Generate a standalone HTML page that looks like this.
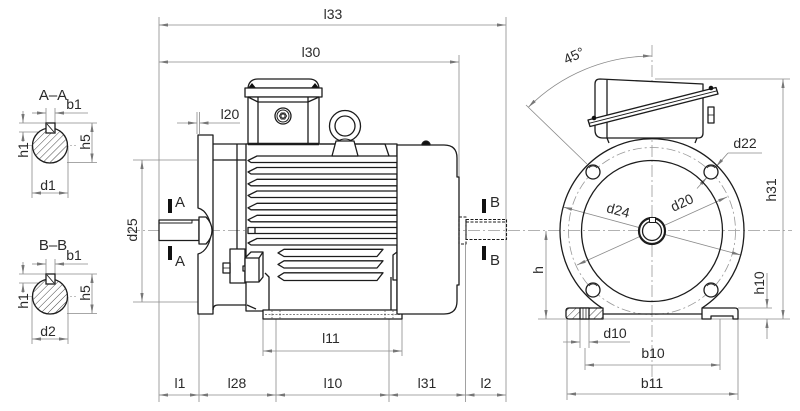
<!DOCTYPE html>
<html><head><meta charset="utf-8"><style>
html,body{margin:0;padding:0;background:#fff;}
svg{display:block}
text{font-family:"Liberation Sans",sans-serif;font-size:14px;fill:#2a2a2a}
.s{font-size:15px}
</style></head><body>
<svg width="800" height="411" viewBox="0 0 800 411" xmlns="http://www.w3.org/2000/svg">
<defs>
<marker id="a" viewBox="0 0 9 4" refX="9" refY="2" markerWidth="9" markerHeight="4" markerUnits="userSpaceOnUse" orient="auto-start-reverse"><path d="M0,0.4 L9,2 L0,3.6z" fill="#777"/></marker>
<pattern id="h" patternUnits="userSpaceOnUse" width="5" height="5" patternTransform="rotate(45)"><line x1="0" y1="0" x2="0" y2="5" stroke="#333" stroke-width="0.9"/></pattern>
<clipPath id="c1"><circle cx="50" cy="145.5" r="17.5"/></clipPath>
<clipPath id="c2"><circle cx="50" cy="296.5" r="17.5"/></clipPath>
</defs>

<!-- ============ DIMENSION / THIN LINES ============ -->
<g stroke="#8a8a8a" stroke-width="0.8" fill="none">
  <!-- center lines -->
  <line x1="128" y1="230.5" x2="792" y2="230.5" stroke-dasharray="12 3 2 3" stroke="#999"/>
  <line x1="652" y1="45" x2="652" y2="385" stroke-dasharray="12 3 2 3" stroke="#999"/>
  <line x1="26" y1="145.5" x2="76" y2="145.5" stroke-dasharray="6 2 2 2" stroke="#aaa"/>
  <line x1="26" y1="296.5" x2="76" y2="296.5" stroke-dasharray="6 2 2 2" stroke="#aaa"/>

  <!-- side view extension lines -->
  <line x1="159" y1="17" x2="159" y2="402"/>
  <line x1="506" y1="17" x2="506" y2="402"/>
  <line x1="459" y1="55" x2="459" y2="177"/>
  <line x1="199" y1="314" x2="199" y2="402"/>
  <line x1="276" y1="319" x2="276" y2="402"/>
  <line x1="389" y1="319" x2="389" y2="402"/>
  <line x1="465.5" y1="244" x2="465.5" y2="402"/>
  <line x1="263" y1="319" x2="263" y2="356"/>
  <line x1="402" y1="319" x2="402" y2="356"/>
  <line x1="197" y1="112" x2="197" y2="134"/>
  <line x1="199.5" y1="112" x2="199.5" y2="134"/>
  <line x1="133" y1="160" x2="197" y2="160"/>
  <line x1="133" y1="302" x2="198" y2="302"/>

  <!-- side view dims -->
  <line x1="159" y1="25" x2="506" y2="25" marker-start="url(#a)" marker-end="url(#a)"/>
  <line x1="159" y1="62" x2="459" y2="62" marker-start="url(#a)" marker-end="url(#a)"/>
  <line x1="177" y1="123" x2="197" y2="123" marker-end="url(#a)"/>
  <line x1="240" y1="123" x2="199.5" y2="123" marker-end="url(#a)"/>
  <line x1="142" y1="160" x2="142" y2="302" marker-start="url(#a)" marker-end="url(#a)"/>
  <line x1="263" y1="351" x2="402" y2="351" marker-start="url(#a)" marker-end="url(#a)"/>
  <line x1="159" y1="395" x2="199" y2="395" marker-start="url(#a)" marker-end="url(#a)"/>
  <line x1="199" y1="395" x2="276" y2="395" marker-start="url(#a)" marker-end="url(#a)"/>
  <line x1="276" y1="395" x2="389" y2="395" marker-start="url(#a)" marker-end="url(#a)"/>
  <line x1="389" y1="395" x2="465.5" y2="395" marker-start="url(#a)" marker-end="url(#a)"/>
  <line x1="465.5" y1="395" x2="506" y2="395" marker-start="url(#a)" marker-end="url(#a)"/>

  <!-- A-A section dims -->
  <line x1="46" y1="108" x2="46" y2="123"/>
  <line x1="55" y1="108" x2="55" y2="123"/>
  <line x1="32" y1="113" x2="46" y2="113" marker-end="url(#a)"/>
  <line x1="88" y1="113" x2="55" y2="113" marker-end="url(#a)"/>
  <line x1="19" y1="123" x2="97" y2="123"/>
  <line x1="19" y1="132" x2="47" y2="132"/>
  <line x1="23" y1="111" x2="23" y2="123" marker-end="url(#a)"/>
  <line x1="23" y1="142" x2="23" y2="132" marker-end="url(#a)"/>
  <line x1="67" y1="162.5" x2="97" y2="162.5"/>
  <line x1="92" y1="123" x2="92" y2="162.5" marker-start="url(#a)" marker-end="url(#a)"/>
  <line x1="32" y1="146" x2="32" y2="198"/>
  <line x1="68" y1="146" x2="68" y2="198"/>
  <line x1="32" y1="193" x2="68" y2="193" marker-start="url(#a)" marker-end="url(#a)"/>

  <!-- B-B section dims -->
  <line x1="46" y1="259" x2="46" y2="274"/>
  <line x1="55" y1="259" x2="55" y2="274"/>
  <line x1="32" y1="264" x2="46" y2="264" marker-end="url(#a)"/>
  <line x1="88" y1="264" x2="55" y2="264" marker-end="url(#a)"/>
  <line x1="19" y1="274" x2="97" y2="274"/>
  <line x1="19" y1="283" x2="47" y2="283"/>
  <line x1="23" y1="262" x2="23" y2="274" marker-end="url(#a)"/>
  <line x1="23" y1="293" x2="23" y2="283" marker-end="url(#a)"/>
  <line x1="67" y1="313.5" x2="97" y2="313.5"/>
  <line x1="92" y1="274" x2="92" y2="313.5" marker-start="url(#a)" marker-end="url(#a)"/>
  <line x1="32" y1="297" x2="32" y2="344"/>
  <line x1="68" y1="297" x2="68" y2="344"/>
  <line x1="32" y1="339" x2="68" y2="339" marker-start="url(#a)" marker-end="url(#a)"/>

  <!-- end view dims -->
  <circle cx="652" cy="231" r="83.5" stroke="#999" stroke-dasharray="9 3 2 3"/>
  <line x1="655" y1="79" x2="790" y2="79"/>
  <line x1="783" y1="79" x2="783" y2="319" marker-start="url(#a)" marker-end="url(#a)"/>
  <line x1="538" y1="319" x2="790" y2="319"/>
  <line x1="546" y1="231" x2="546" y2="319" marker-start="url(#a)" marker-end="url(#a)"/>
  <line x1="738" y1="308" x2="772" y2="308"/>
  <line x1="767" y1="273" x2="767" y2="308" marker-end="url(#a)"/>
  <line x1="767" y1="339" x2="767" y2="319" marker-end="url(#a)"/>
  <line x1="580" y1="319" x2="580" y2="348"/>
  <line x1="589" y1="319" x2="589" y2="348"/>
  <line x1="563" y1="342" x2="580" y2="342" marker-end="url(#a)"/>
  <line x1="630" y1="342" x2="589" y2="342" marker-end="url(#a)"/>
  <line x1="585" y1="348" x2="585" y2="370"/>
  <line x1="720" y1="319" x2="720" y2="370"/>
  <line x1="585" y1="365" x2="720" y2="365" marker-start="url(#a)" marker-end="url(#a)"/>
  <line x1="567" y1="319" x2="567" y2="400"/>
  <line x1="738" y1="319" x2="738" y2="400"/>
  <line x1="567" y1="394" x2="738" y2="394" marker-start="url(#a)" marker-end="url(#a)"/>
  <line x1="577" y1="265" x2="727" y2="197" marker-start="url(#a)" marker-end="url(#a)"/>
  <line x1="563.2" y1="207" x2="740.8" y2="255" marker-start="url(#a)" marker-end="url(#a)"/>
  <line x1="728" y1="153" x2="762" y2="153"/>
  <line x1="728" y1="153" x2="716" y2="166.7" marker-end="url(#a)"/>
  <line x1="697" y1="188.5" x2="707" y2="177.3" marker-end="url(#a)"/>
  <path d="M528.3,107.3 A175,175 0 0 1 652,56" marker-start="url(#a)" marker-end="url(#a)"/>
  <line x1="526" y1="105" x2="587" y2="164"/>
</g>

<!-- ============ SECTIONS ============ -->
<g stroke="#1c1c1c" stroke-width="1.3">
  <circle cx="50" cy="145.5" r="17.5" fill="#fff"/>
  <rect x="30" y="125" width="42" height="42" fill="url(#h)" stroke="none" clip-path="url(#c1)"/>
  <rect x="46" y="123" width="9" height="10" fill="#fff"/>
  <line x1="47" y1="124" x2="54" y2="132" stroke-width="0.9"/>
  <circle cx="50" cy="296.5" r="17.5" fill="#fff"/>
  <rect x="30" y="276" width="42" height="42" fill="url(#h)" stroke="none" clip-path="url(#c2)"/>
  <rect x="46" y="274" width="9" height="10" fill="#fff"/>
  <line x1="47" y1="275" x2="54" y2="283" stroke-width="0.9"/>
</g>

<!-- ============ SIDE VIEW OBJECT ============ -->
<g stroke="#1c1c1c" stroke-width="1.3" fill="#fff" stroke-linejoin="round">
  <!-- flange & neck -->
  <path d="M198,135 H213 V314 H198 V254 C206,252 211,242 211,231 C211,220 206,210 198,208 Z"/>
  <path d="M213,144 H247 V305 H218 Q213,305 213,310" fill="none"/>
  <line x1="213" y1="160" x2="247" y2="160"/>
  <line x1="237" y1="144" x2="237" y2="249"/>
  <!-- shaft A -->
  <rect x="159" y="220" width="40" height="20.5"/>
  <polyline points="159,223 192,223 192,220" fill="none" stroke-width="1"/>
  <path d="M199,217 H206 Q212,223 212,230.5 Q212,238 206,244 H199 Z"/>
  <!-- frame -->
  <rect x="246" y="144" width="151" height="167"/>
  <!-- fins -->
  <g>
    <path d="M397,156 H257 L248,160.5 L251,162.5 H397"/>
    <path d="M397,167.5 H257 L248,172 L251,174 H397"/>
    <path d="M397,179.3 H257 L248,183.8 L251,185.8 H397"/>
    <path d="M397,191 H257 L248,195.5 L251,197.5 H397"/>
    <path d="M397,203.3 H257 L248,207.8 L251,209.8 H397"/>
    <path d="M397,215.3 H257 L248,219.8 L251,221.8 H397"/>
    <rect x="248" y="227.5" width="149" height="6"/>
    <line x1="255" y1="227.5" x2="255" y2="233.5"/>
    <path d="M397,238.5 H257 L248,243 L251,245 H397"/>
    <path d="M284,249.3 H383 L377,256.5 H284 L278,252.9 Z"/>
    <path d="M284,260.8 H383 L377,268 H284 L278,264.4 Z"/>
    <path d="M284,272.8 H383 L377,280.5 H284 L278,276.6 Z"/>
  </g>
  <path d="M247,305 L256,309 M265,273 L269,277 V310 M391,277 V310 M397,252 L393,255 V280 H397" fill="none"/>
  <!-- foot -->
  <rect x="263" y="310" width="139" height="9"/>
  <g stroke="#555" stroke-width="0.8" stroke-dasharray="2 1.5" fill="none">
    <line x1="272" y1="310" x2="272" y2="319"/><line x1="280" y1="310" x2="280" y2="319"/>
    <line x1="385" y1="310" x2="385" y2="319"/><line x1="393" y1="310" x2="393" y2="319"/>
    <line x1="265" y1="314.5" x2="400" y2="314.5"/>
  </g>
  <!-- mounting block -->
  <rect x="230" y="249" width="15" height="34"/>
  <rect x="223" y="263" width="7" height="10"/>
  <line x1="223" y1="268" x2="230" y2="268" stroke-width="0.8"/>
  <rect x="243" y="266" width="4" height="5"/>
  <path d="M245,258 L251,252 H263 V277 L259,282 H245 Z"/>
  <path d="M245,258 H259 V282 M259,258 L263,252" fill="none"/>
  <!-- terminal box -->
  <path d="M248,88 Q249,79 258,79 H309 Q318,79 319,88 Z"/>
  <path d="M248,88 L252,83 L256,88 Z M319,88 L315,83 L311,88 Z" fill="#111" stroke="none"/>
  <rect x="245" y="88" width="77" height="9"/>
  <rect x="248" y="97" width="71" height="47"/>
  <path d="M258,97 V144 M308,97 V144 M248,97 L258,102 H308 L319,97" fill="none"/>
  <line x1="248" y1="144" x2="319" y2="144" stroke-width="2.6"/>
  <circle cx="283" cy="116" r="8"/>
  <circle cx="283" cy="116" r="6" stroke-width="1"/>
  <polygon points="286.5,116 284.75,119 281.25,119 279.5,116 281.25,113 284.75,113" stroke-width="1"/>
  <circle cx="283" cy="116" r="2" stroke-width="0.9"/>
  <!-- eye bolt -->
  <path d="M320,144 H385 L389,156" fill="none"/>
  <circle cx="345" cy="126" r="15.5"/>
  <circle cx="345" cy="126" r="10"/>
  <path d="M336,141 L332,156 H358 L354,141 Z"/>
  <path d="M338,141 Q345,137 352,141" fill="none" stroke-width="1"/>
  <!-- fan cover -->
  <path d="M397,145 H444 Q457,145 457,158 V177 H459 V285 H457 V301 Q457,314 444,314 H397 Z"/>
  <path d="M422,145 A4,4 0 0 1 430,145 Z" fill="#111"/>
  <!-- shaft B dashed -->
  <g stroke-dasharray="3 1.5" stroke-width="1.1" fill="none">
    <rect x="459" y="217" width="7" height="27"/>
    <rect x="466" y="219.5" width="40.5" height="20"/>
    <line x1="466" y1="222" x2="506" y2="222"/>
  </g>
</g>
<!-- section marks -->
<g fill="#111">
  <rect x="168" y="199" width="4" height="14"/>
  <rect x="168" y="246" width="4" height="14"/>
  <rect x="482" y="199" width="4" height="14"/>
  <rect x="482" y="246" width="4" height="14"/>
</g>

<!-- ============ END VIEW OBJECT ============ -->
<g stroke="#1c1c1c" stroke-width="1.3" fill="none" stroke-linejoin="round">
  <path d="M602,308 A92,92 0 1 1 702,308"/>
  <circle cx="652" cy="231" r="70.5"/>
  <g fill="#fff">
    <circle cx="593" cy="172" r="7"/>
    <circle cx="711" cy="172" r="7"/>
    <circle cx="593" cy="290" r="7"/>
    <circle cx="711" cy="290" r="7"/>
  </g>
  <g stroke-width="0.8">
    <path d="M589,168 A5,5 0 0 1 597,168"/>
    <path d="M707,168 A5,5 0 0 1 715,168"/>
    <path d="M589,286 A5,5 0 0 1 597,286"/>
    <path d="M707,286 A5,5 0 0 1 715,286"/>
  </g>
  <circle cx="652" cy="231" r="13" stroke-width="2.2" fill="#fff"/>
  <circle cx="652" cy="231" r="9.5"/>
  <rect x="649.5" y="217.5" width="6" height="5" fill="#fff" stroke-width="1"/>
  <!-- terminal box -->
  <path d="M600,79 L703,84 V133 Q703,138 698,138 H603 Q595,138 595,130 V84 Q595,79 600,79 Z" fill="#fff"/>
  <line x1="607" y1="80" x2="607" y2="138"/>
  <path d="M588,120 L716,87.5 L718,94 L590,126.5 Z" fill="#fff"/>
  <line x1="589" y1="123.3" x2="717" y2="90.8" stroke-width="0.9"/>
  <circle cx="594" cy="118" r="2.3" fill="#111" stroke="none"/>
  <circle cx="711" cy="88" r="2.3" fill="#111" stroke="none"/>
  <rect x="708" y="107" width="6" height="16" fill="#fff"/>
  <line x1="708" y1="115" x2="714" y2="115" stroke-width="0.8"/>
  <path d="M607,138 L609,143 M697,138 L695,143"/>
  <!-- base and feet -->
  <line x1="603" y1="314" x2="702" y2="314"/>
  <path d="M569,308 H603 V319 H569 Q566,319 566,316 V311 Q566,308 569,308 Z" fill="url(#h)"/>
  <rect x="580" y="308" width="9" height="11" fill="#fff"/>
  <line x1="583" y1="308" x2="583" y2="319" stroke-width="0.7"/>
  <line x1="586" y1="308" x2="586" y2="319" stroke-width="0.7"/>
  <path d="M702,308 H735 Q738,308 738,311 V319 H733 V316 H711 V319 H702 Z" fill="#fff"/>
</g>

<!-- ============ TEXT ============ -->
<g text-anchor="middle">
  <text x="333" y="19">l33</text>
  <text x="311" y="57">l30</text>
  <text x="230" y="119">l20</text>
  <text x="331" y="343">l11</text>
  <text x="180" y="388">l1</text>
  <text x="237" y="388">l28</text>
  <text x="333" y="388">l10</text>
  <text x="427" y="388">l31</text>
  <text x="486" y="388">l2</text>
  <text transform="translate(137,230) rotate(-90)">d25</text>

  <text class="s" x="53" y="100">A–A</text>
  <text x="74" y="109">b1</text>
  <text transform="translate(28,150) rotate(-90)">h1</text>
  <text transform="translate(90,142) rotate(-90)">h5</text>
  <text x="48" y="190">d1</text>

  <text class="s" x="53" y="250">B–B</text>
  <text x="74" y="260">b1</text>
  <text transform="translate(28,301) rotate(-90)">h1</text>
  <text transform="translate(90,293) rotate(-90)">h5</text>
  <text x="48" y="336">d2</text>

  <text class="s" x="180" y="207">A</text>
  <text class="s" x="180" y="266">A</text>
  <text class="s" x="495" y="207">B</text>
  <text class="s" x="495" y="265">B</text>

  <text transform="translate(576,60) rotate(-25)">45°</text>
  <text x="745" y="148">d22</text>
  <text transform="translate(684,207) rotate(-24.4)">d20</text>
  <text transform="translate(617,215) rotate(15)">d24</text>
  <text transform="translate(776,190) rotate(-90)">h31</text>
  <text transform="translate(543,270) rotate(-90)">h</text>
  <text transform="translate(764,283) rotate(-90)">h10</text>
  <text x="615" y="338">d10</text>
  <text x="653" y="358">b10</text>
  <text x="652" y="388">b11</text>
</g>
</svg>
</body></html>
